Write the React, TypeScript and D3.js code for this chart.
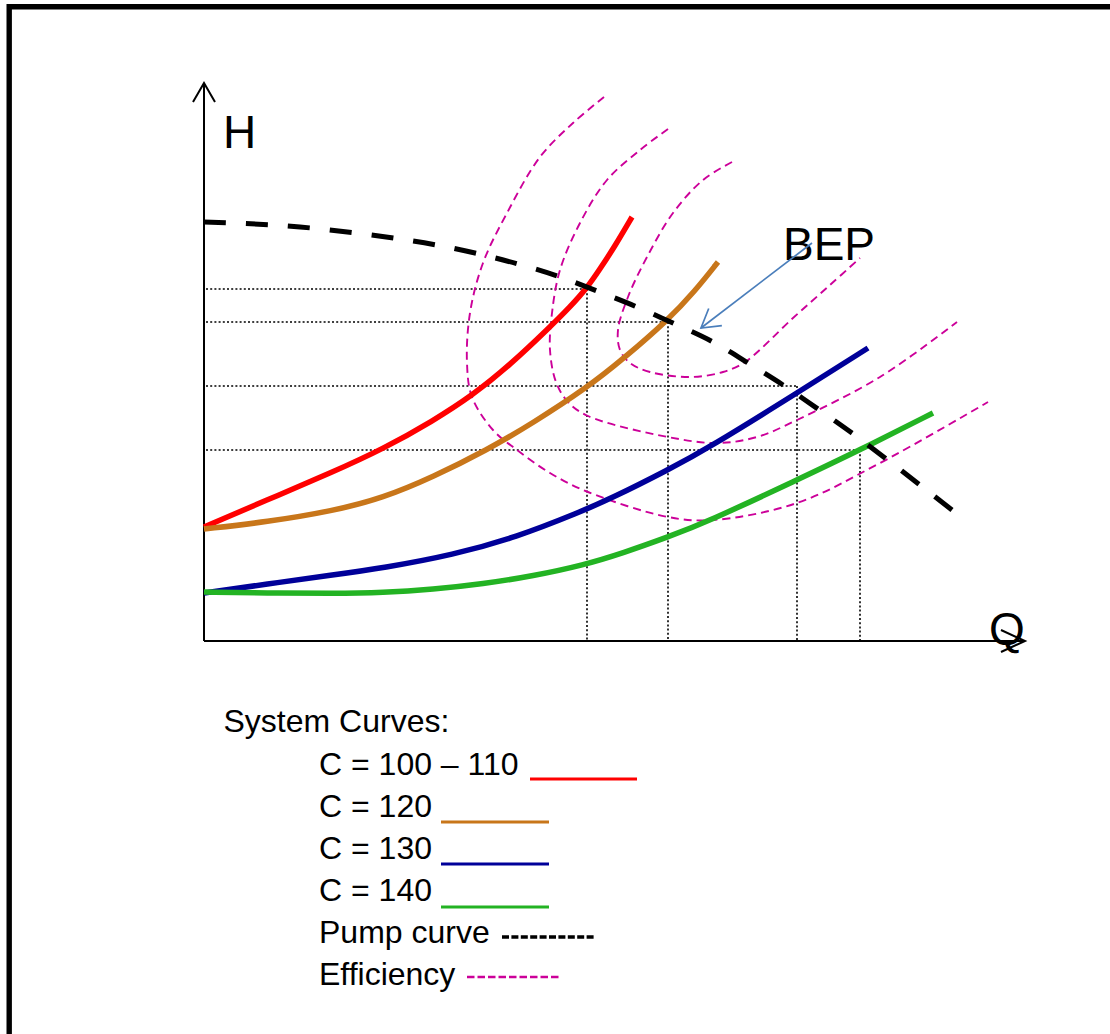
import React, { useEffect, useRef, useState } from "react";
import * as d3 from "d3";

// ---- Data (Q = flow, H = head, arbitrary units) ----
const systemC100: [number, number][] = [
  [0, 28.5], [15.75, 35.25], [32.25, 42.25], [44.75, 48], [57.25, 55],
  [67.25, 61.5], [76.5, 69], [86.5, 78.5], [91.5, 83.5], [95.75, 88.25],
  [99, 93], [102.75, 98.75], [107, 106],
];
const systemC120: [number, number][] = [
  [0, 28], [15.75, 29.75], [32.25, 32.5], [44.75, 35.75], [57.25, 41],
  [70.75, 47.75], [82.25, 54.5], [96, 63.5], [104.75, 70.5], [116, 80.25],
  [122.75, 87.5], [128.5, 94.75],
];
const systemC130: [number, number][] = [
  [0, 12], [15.75, 14.25], [32.25, 16.5], [44.75, 18.25], [62.25, 21.5],
  [78.25, 26], [94, 32.25], [101.5, 35.5], [116, 42.75], [126.5, 48.5],
  [148.25, 62], [166, 73.25],
];
const systemC140: [number, number][] = [
  [0, 12.25], [15.75, 12], [32.25, 11.9], [44.75, 12.1], [57.25, 12.9],
  [69.75, 14.25], [82.25, 16.25], [95, 19], [104.75, 22], [116, 26],
  [125.75, 29.75], [148.25, 40.25], [164, 47.75], [182.25, 57],
];
const pumpCurve: [number, number][] = [
  [0, 104.75], [24, 103.5], [49, 100.5], [65.5, 97.5], [78.5, 94.25],
  [89, 91], [98.25, 87.5], [108.25, 83.5], [117.75, 79.25], [127.25, 74.75],
  [136, 69.5], [144.75, 64], [153.5, 58], [162, 52], [170.25, 45.75],
  [179, 39], [187, 32.75],
];
const efficiency1: [number, number][] = [
  [100, 136], [92.25, 129.5], [84, 121], [75.75, 107], [69.75, 94.5],
  [66.5, 82], [65.75, 69.5], [67, 61], [72.25, 52.75], [78.25, 47.75],
  [86.5, 42], [96, 37.25], [116, 31], [127.25, 30.25], [148.25, 34.5],
  [169, 44.5], [196, 59.75],
];
const efficiency2: [number, number][] = [
  [116, 128], [109, 122.75], [100.75, 115.25], [94, 104.5], [89, 92.75],
  [87, 82], [86.5, 72.75], [88, 64.75], [91, 59.75], [96, 56.25],
  [116, 51], [128.25, 49.5], [138.25, 51], [148.25, 55.25], [169, 66],
  [188.25, 79.75],
];
const efficiency3: [number, number][] = [
  [132, 119.75], [124.75, 115.25], [117.25, 107], [110.75, 96], [106, 86],
  [103.5, 77.75], [104, 72.75], [106.5, 69.5], [111.5, 67.25], [121.5, 66],
  [129.75, 67.25], [135.25, 69.75], [147.25, 80.75], [156.5, 89], [164, 95.75],
];
const operatingPoints: [number, number][] = [
  [95.75, 88], [116, 79.75], [148.25, 63.75], [164, 47.75],
];
const bepArrow: [number, number][] = [[152, 99.5], [124.25, 78.25]];
const bepLabel: [number, number] = [144.75, 95.25];

const legendTitle = "System Curves:";
const legendLabels = ["C = 100 \u2013 110", "C = 120", "C = 130", "C = 140", "Pump curve", "Efficiency"];

const Q_END = 205.25;
const H_END = 139.5;

const COLORS = {
  c100: "#ff0000",
  c120: "#c8761a",
  c130: "#000099",
  c140: "#23b323",
  pump: "#000000",
  eff: "#cc0099",
  bep: "#4a7ebb",
};

const FONT = "'Liberation Sans', Arial, Helvetica, sans-serif";
const PUMP_DASH = 22;
const PUMP_PERIOD = 42;

export default function App() {
  const W = 1110;
  const H = 1034;
  const x = d3.scaleLinear().domain([0, 205]).range([204, 1024]);
  const y = d3.scaleLinear().domain([0, 140]).range([641, 81]);

  const sysLine = d3
    .line<[number, number]>()
    .x((d) => x(d[0]))
    .y((d) => y(d[1]))
    .curve(d3.curveBasis);

  const pumpLine = d3
    .line<[number, number]>()
    .x((d) => x(d[0]))
    .y((d) => y(d[1]))
    .curve(d3.curveNatural);

  const loopLine = d3
    .line<[number, number]>()
    .x((d) => x(d[0]))
    .y((d) => y(d[1]))
    .curve(d3.curveCatmullRom.alpha(0.5));

  const pumpRef = useRef<SVGPathElement>(null);
  const [pumpGap, setPumpGap] = useState(PUMP_PERIOD - PUMP_DASH);
  useEffect(() => {
    if (pumpRef.current) {
      const L = pumpRef.current.getTotalLength();
      // dash at both the start and the end of the curve
      const n = Math.max(1, Math.round((L - PUMP_DASH) / PUMP_PERIOD));
      const period = (L - PUMP_DASH) / n;
      setPumpGap(period - PUMP_DASH);
    }
  }, []);

  const x0 = x(0);
  const y0 = y(0);
  const xEnd = x(Q_END);
  const yEnd = y(H_END);

  // BEP arrow head
  const [t0, t1] = bepArrow;
  const tailX = x(t0[0]), tailY = y(t0[1]);
  const tipX = x(t1[0]), tipY = y(t1[1]);
  const ang = Math.atan2(tailY - tipY, tailX - tipX);
  const wl = 21;
  const wa = (31 * Math.PI) / 180;
  const w1 = [tipX + wl * Math.cos(ang - wa), tipY + wl * Math.sin(ang - wa)];
  const w2 = [tipX + wl * Math.cos(ang + wa), tipY + wl * Math.sin(ang + wa)];

  const legendX = 319;
  const legendBase = 775;
  const legendStep = 42;
  const legendLines = [
    { x1: 530, x2: 637, color: COLORS.c100, w: 3, dash: undefined as string | undefined },
    { x1: 441, x2: 549, color: COLORS.c120, w: 3, dash: undefined },
    { x1: 441, x2: 549, color: COLORS.c130, w: 3, dash: undefined },
    { x1: 441, x2: 549, color: COLORS.c140, w: 3, dash: undefined },
    { x1: 502, x2: 596, color: COLORS.pump, w: 3.5, dash: "7 2.4" },
    { x1: 467, x2: 561, color: COLORS.eff, w: 2.5, dash: "7.5 3" },
  ];
  const legendLineDy = [4, 5, 5, 6, -6, -8];

  return (
    <svg
      width={W}
      height={H}
      viewBox={`0 0 ${W} ${H}`}
      style={{ position: "absolute", left: 0, top: 0, background: "#fff" }}
      fontFamily={FONT}
    >
      <rect x={0} y={0} width={W} height={H} fill="#fff" />
      {/* frame (top and left edges visible) */}
      <path d={`M9.2,${H + 10} L9.2,6.7 L${W + 10},6.7`} fill="none" stroke="#000" strokeWidth={5.4} />

      {/* dotted guides */}
      <g stroke="#000" strokeWidth={1.6} strokeDasharray="2 2.2" fill="none">
        {operatingPoints.map((p, i) => (
          <g key={i}>
            <line x1={x(0.5)} x2={x(p[0])} y1={y(p[1])} y2={y(p[1])} />
            <line x1={x(p[0])} x2={x(p[0])} y1={y(p[1])} y2={y0} />
          </g>
        ))}
      </g>

      {/* efficiency curves */}
      <g fill="none" stroke={COLORS.eff} strokeWidth={1.9} strokeDasharray="8 5">
        <path d={loopLine(efficiency1) || ""} />
        <path d={loopLine(efficiency2) || ""} />
        <path d={loopLine(efficiency3) || ""} />
      </g>

      {/* axes */}
      <g stroke="#000" strokeWidth={2} fill="none">
        <line x1={x0} y1={y0} x2={x0} y2={yEnd} />
        <polyline points={`${x0 - 11},${yEnd + 19} ${x0},${yEnd} ${x0 + 11},${yEnd + 19}`} />
        <line x1={x0} y1={y0} x2={xEnd} y2={y0} />
        <polyline points={`${xEnd - 24},${y0 - 11} ${xEnd},${y0} ${xEnd - 24},${y0 + 11}`} />
      </g>

      {/* system curves */}
      <g fill="none" strokeWidth={5.5} strokeLinecap="butt">
        <path d={sysLine(systemC100) || ""} stroke={COLORS.c100} />
        <path d={sysLine(systemC120) || ""} stroke={COLORS.c120} />
        <path d={sysLine(systemC130) || ""} stroke={COLORS.c130} />
        <path d={sysLine(systemC140) || ""} stroke={COLORS.c140} />
      </g>

      {/* pump curve */}
      <path
        ref={pumpRef}
        d={pumpLine(pumpCurve) || ""}
        fill="none"
        stroke={COLORS.pump}
        strokeWidth={5}
        strokeDasharray={`${PUMP_DASH} ${pumpGap}`}
      />

      {/* BEP annotation */}
      <text x={x(bepLabel[0])} y={y(bepLabel[1])} fontSize={46} fill="#000">BEP</text>
      <g stroke={COLORS.bep} strokeWidth={1.7} fill="none">
        <line x1={tailX} y1={tailY} x2={tipX} y2={tipY} />
        <polyline points={`${w1[0]},${w1[1]} ${tipX},${tipY} ${w2[0]},${w2[1]}`} />
      </g>

      {/* axis labels */}
      <text x={223} y={148} fontSize={46} fill="#000">H</text>
      <text x={989} y={645} fontSize={46} fill="#000">Q</text>

      {/* legend */}
      <text x={223.5} y={732} fontSize={32} fill="#000">{legendTitle}</text>
      {legendLabels.map((lab, i) => {
        const by = legendBase + i * legendStep;
        const l = legendLines[i];
        return (
          <g key={lab}>
            <text x={legendX} y={by} fontSize={32} fill="#000">{lab}</text>
            <line
              x1={l.x1}
              x2={l.x2}
              y1={by + legendLineDy[i]}
              y2={by + legendLineDy[i]}
              stroke={l.color}
              strokeWidth={l.w}
              strokeDasharray={l.dash}
            />
          </g>
        );
      })}
    </svg>
  );
}
